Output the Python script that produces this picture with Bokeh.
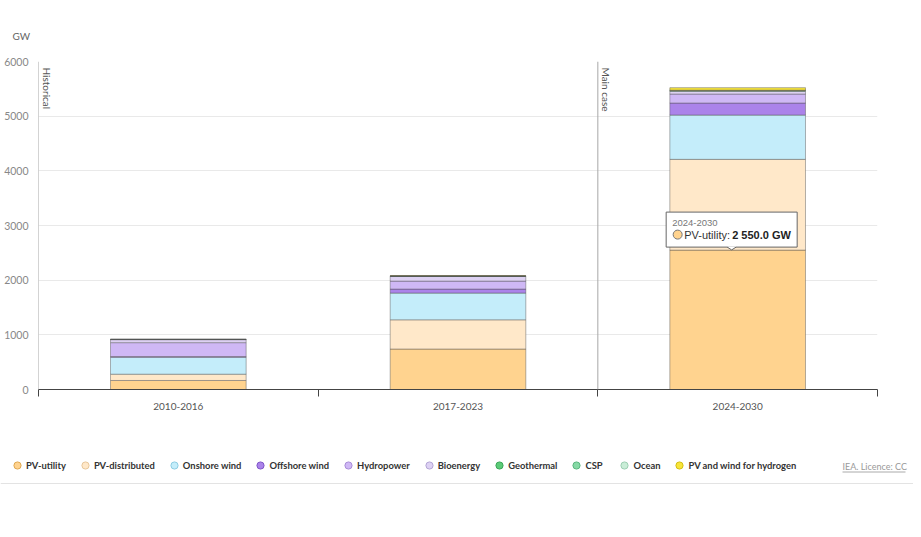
import math
from bokeh.plotting import figure
from bokeh.models import Range1d, FixedTicker, Span, Label, Legend, LegendItem, ColumnDataSource
from bokeh.embed import file_html
from bokeh.resources import INLINE

# ---------------- data ----------------
periods = ["2010-2016", "2017-2023", "2024-2030"]
series = ["PV-utility", "PV-distributed", "Onshore wind", "Offshore wind", "Hydropower",
          "Bioenergy", "Geothermal", "CSP", "Ocean", "PV and wind for hydrogen"]
pv_utility = [165, 740, 2550]
pv_distributed = [115, 535, 1660]
onshore_wind = [310, 489, 810]
offshore_wind = [12, 73, 220]
hydropower = [255, 146, 165]
bioenergy = [55, 84, 50]
geothermal = [3, 8, 12]
csp = [2, 3, 6]
ocean = [0, 0, 3]
pv_wind_hydrogen = [0, 2, 45]
y_ticks = [0, 1000, 2000, 3000, 4000, 5000, 6000]
colors = ["#FFD38F", "#FFE8C9", "#C4EDFA", "#AB83EA", "#CFB8F5",
          "#DDD1F3", "#5CCB78", "#86D9A5", "#C9EDD7", "#F8E53A"]
edge_colors = ["#E0A850", "#E8C79A", "#8CCDE3", "#7F55C8", "#A88BD8",
               "#B3A5D6", "#3AA658", "#5AB67F", "#9CCFB2", "#D4BF10"]

values = [pv_utility, pv_distributed, onshore_wind, offshore_wind, hydropower,
          bioenergy, geothermal, csp, ocean, pv_wind_hydrogen]

W = 913
H0 = 50                 # header strip (unit label)
FRAME_TOP = 61
FRAME_BOTTOM = 389
H1 = 419 - H0           # chart
H2 = 110                # legend / footer
BL, BR = 38, 36
BT = FRAME_TOP - H0
BB = H1 - (FRAME_BOTTOM - H0)
FW = W - BL - BR
FH = FRAME_BOTTOM - FRAME_TOP
FONT = "Lato"
TT_FONT = "Liberation Sans"


def strip(h):
    f = figure(width=W, height=h, x_range=Range1d(0, W), y_range=Range1d(h, 0),
               output_backend="svg", toolbar_location=None, min_border=0,
               x_axis_location=None, y_axis_location=None)
    f.outline_line_color = None
    f.grid.visible = False
    return f


# ---------------- header ----------------
p0 = strip(H0)
p0.add_layout(Label(x=12, y=35, text="GW", text_align="left", text_baseline="middle",
                    text_font=FONT, text_font_size="10px", text_color="#666666"))

# ---------------- chart ----------------
centers = [i + 0.5 for i in range(len(periods))]
edges = [float(i) for i in range(len(periods) + 1)]
data = {"x": centers}
for name, vals in zip(series, values):
    data[name] = vals
src = ColumnDataSource(data)

p = figure(width=W, height=H1, x_range=Range1d(0, len(periods)), y_range=Range1d(0, 6000),
           output_backend="svg", toolbar_location=None,
           min_border_left=BL, min_border_right=BR, min_border_top=BT, min_border_bottom=BB)
p.outline_line_color = None

p.vbar_stack(series, x="x", width=0.485, source=src, fill_color=colors,
             line_color="#555555", line_alpha=0.45, line_width=1)

p.xaxis.ticker = FixedTicker(ticks=centers, minor_ticks=edges)
p.xaxis.major_label_overrides = {c: lab for c, lab in zip(centers, periods)}
p.xaxis.major_tick_line_color = None
p.xaxis.major_tick_out = 0
p.xaxis.major_tick_in = 0
p.xaxis.minor_tick_in = 0
p.xaxis.minor_tick_out = 7
p.xaxis.minor_tick_line_color = "#444444"
p.xaxis.axis_line_color = "#444444"
p.xaxis.major_label_standoff = 6
p.xaxis.major_label_text_font = FONT
p.xaxis.major_label_text_font_size = "10px"
p.xaxis.major_label_text_color = "#555555"

p.yaxis.ticker = FixedTicker(ticks=y_ticks, minor_ticks=[])
p.yaxis.axis_line_color = None
p.yaxis.major_tick_line_color = None
p.yaxis.major_tick_out = 0
p.yaxis.major_tick_in = 0
p.yaxis.minor_tick_line_color = None
p.yaxis.major_label_standoff = 10
p.yaxis.major_label_text_font = FONT
p.yaxis.major_label_text_font_size = "10.5px"
p.yaxis.major_label_text_color = "#888888"

p.xgrid.grid_line_color = None
p.ygrid.grid_line_color = "#E9E9E9"
p.ygrid.ticker = FixedTicker(ticks=y_ticks)

for loc, txt in [(edges[0], "Historical"), (edges[2], "Main case")]:
    p.add_layout(Span(location=loc, dimension="height", line_color="#A8A8A8", line_width=1))
    p.add_layout(Label(x=loc, y=6000, x_offset=2, y_offset=-6, text=txt, angle=-math.pi / 2,
                       text_align="left", text_baseline="bottom", text_font=FONT,
                       text_font_size="10px", text_color="#555555"))

# static tooltip on PV-utility 2024-2030 (pointer slightly left of bar centre)
px_x = len(periods) / FW
px_y = 6000 / FH
ax = centers[2] - 6 * px_x
ay = pv_utility[2]
p.quad(left=[ax - 65.5 * px_x], right=[ax + 65.5 * px_x], bottom=[ay + 3 * px_y], top=[ay + 38 * px_y],
       fill_color="white", line_color="#666666", line_width=1)
p.patch(x=[ax - 5 * px_x, ax + 5 * px_x, ax], y=[ay + 3.6 * px_y, ay + 3.6 * px_y, ay + 0.3 * px_y],
        fill_color="white", line_color=None)
p.line(x=[ax - 4.5 * px_x, ax, ax + 4.5 * px_x], y=[ay + 3 * px_y, ay + 0.2 * px_y, ay + 3 * px_y],
       line_color="#666666", line_width=1)
p.add_layout(Label(x=ax, y=ay, x_offset=-59.5, y_offset=27.5, text=periods[2], text_align="left",
                   text_baseline="middle", text_font=TT_FONT, text_font_size="9.5px", text_color="#777777"))
p.scatter(x=[ax - 54 * px_x], y=[ay + 15.5 * px_y], marker="circle", size=9,
          fill_color=colors[0], line_color="#777777", line_width=1)
p.add_layout(Label(x=ax, y=ay, x_offset=-47.5, y_offset=15.5, text=series[0] + ":", text_align="left",
                   text_baseline="middle", text_font=TT_FONT, text_font_size="11px", text_color="#333333"))
val_txt = f"{pv_utility[2]:,.1f}".replace(",", " ") + " GW"
p.add_layout(Label(x=ax, y=ay, x_offset=0.5, y_offset=15.5, text=val_txt, text_align="left",
                   text_baseline="middle", text_font=TT_FONT, text_font_size="11px",
                   text_font_style="bold", text_color="#222222"))

# ---------------- legend / footer ----------------
p2 = strip(H2)
items = []
for name, c, ec in zip(series, colors, edge_colors):
    r = p2.scatter(x=[-100], y=[-100], marker="circle", size=7, fill_color=c, line_color=ec, line_width=1)
    items.append(LegendItem(label=name, renderers=[r]))
leg = Legend(items=items, orientation="horizontal", location=(8, H2 - (456 - 419) - 18),
             glyph_width=18, glyph_height=18, label_height=18, label_standoff=0, spacing=10,
             padding=0, margin=0, border_line_color=None, background_fill_alpha=0,
             label_text_font=FONT, label_text_font_size="9.4px", label_text_font_style="bold",
             label_text_color="#333333")
p2.add_layout(leg)
p2.add_layout(Span(location=483 - 419, dimension="width", line_color="#E3E3E3", line_width=1))
p2.add_layout(Label(x=842, y=466 - 419, text="IEA. Licence: CC", text_align="left",
                    text_baseline="middle", text_font=FONT, text_font_size="9px", text_color="#999999"))
p2.segment(x0=[842], y0=[471.5 - 419], x1=[905], y1=[471.5 - 419], line_color="#AAAAAA", line_width=1)

open("out.html", "w").write(file_html([p0, p, p2], INLINE))
